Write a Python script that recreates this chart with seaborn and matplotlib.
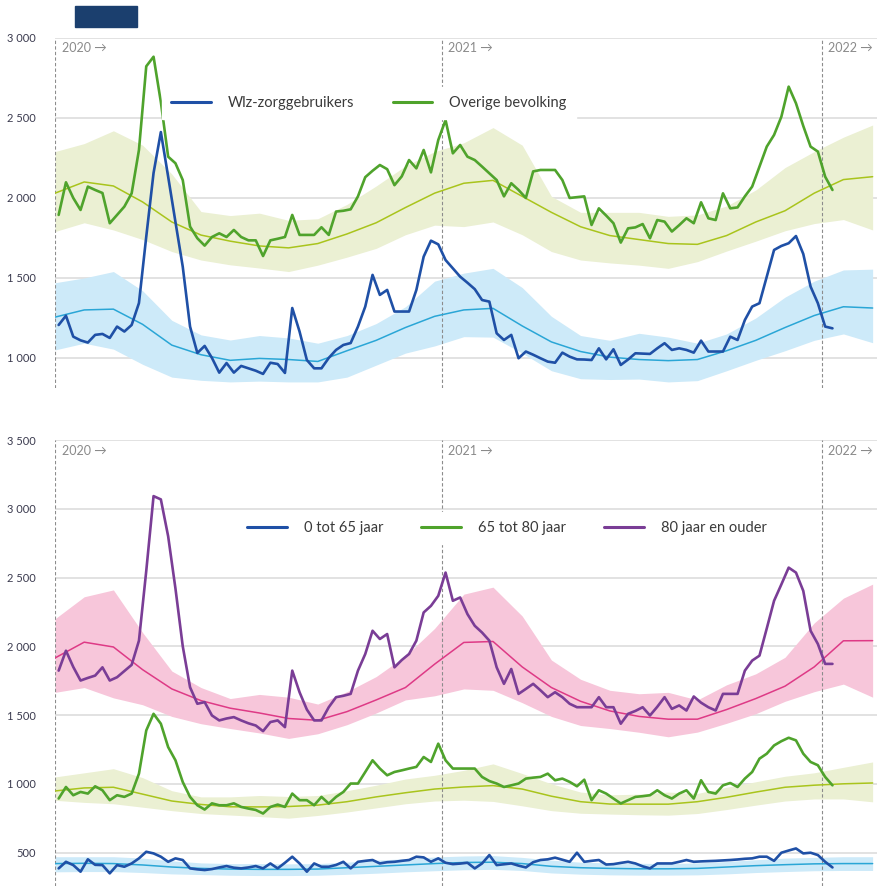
import numpy as np
import pandas as pd
import matplotlib
matplotlib.use("Agg")
import matplotlib.pyplot as plt
from matplotlib.lines import Line2D
from matplotlib.patches import Rectangle
from matplotlib.ticker import FuncFormatter
import seaborn as sns

# ---------------- data (weekly, observed) ----------------
top_wlz = [1206, 1264, 1133, 1110, 1096, 1144, 1150, 1125, 1196, 1165,
           1206, 1343, 1758, 2156, 2412, 2133, 1850, 1570, 1196, 1031,
           1075, 1000, 908, 968, 908, 950, 935, 920, 900, 970,
           962, 906, 1312, 1165, 987, 935, 935, 1000, 1050, 1081,
           1093, 1196, 1321, 1519, 1394, 1425, 1290, 1290, 1290, 1425,
           1633, 1733, 1710, 1612, 1560, 1508, 1470, 1430, 1362, 1352,
           1154, 1112, 1144, 998, 1040, 1020, 998, 977, 970, 1033,
           1008, 991, 990, 987, 1060, 991, 1054, 956, 990, 1029,
           1027, 1025, 1060, 1092, 1050, 1060, 1050, 1033, 1108, 1040,
           1040, 1040, 1133, 1112, 1237, 1321, 1342, 1508, 1675, 1700,
           1717, 1762, 1650, 1446, 1342, 1196, 1185]
top_other = [1894, 2098, 2000, 1925, 2071, 2050, 2031, 1842, 1894, 1946,
             2029, 2300, 2823, 2883, 2600, 2258, 2217, 2112, 1821, 1748,
             1702, 1756, 1779, 1756, 1800, 1756, 1735, 1735, 1637, 1735,
             1745, 1756, 1894, 1769, 1769, 1769, 1817, 1769, 1915, 1920,
             1929, 2010, 2130, 2170, 2206, 2180, 2080, 2135, 2237, 2185,
             2300, 2160, 2362, 2487, 2279, 2331, 2258, 2237, 2196, 2154,
             2112, 2010, 2092, 2050, 2000, 2166, 2175, 2175, 2175, 2112,
             2000, 2005, 2010, 1831, 1935, 1890, 1842, 1721, 1810, 1816,
             1837, 1748, 1862, 1852, 1790, 1830, 1873, 1842, 1973, 1873,
             1862, 2029, 1935, 1941, 2010, 2071, 2196, 2321, 2394, 2508,
             2696, 2592, 2450, 2321, 2290, 2133, 2050]
bot_80 = [1823, 1968, 1850, 1751, 1770, 1787, 1847, 1751, 1775, 1820,
          1865, 2041, 2548, 3092, 3068, 2800, 2420, 2000, 1702, 1582,
          1594, 1497, 1461, 1475, 1485, 1461, 1440, 1424, 1383, 1449,
          1461, 1412, 1823, 1666, 1540, 1461, 1461, 1557, 1630, 1640,
          1654, 1823, 1944, 2113, 2053, 2089, 1847, 1900, 1944, 2041,
          2246, 2294, 2367, 2536, 2331, 2355, 2234, 2149, 2100, 2041,
          1847, 1727, 1835, 1654, 1690, 1727, 1680, 1630, 1666, 1630,
          1582, 1557, 1557, 1557, 1630, 1557, 1557, 1437, 1509, 1530,
          1557, 1497, 1560, 1630, 1545, 1570, 1533, 1635, 1590, 1557,
          1533, 1654, 1654, 1654, 1823, 1896, 1932, 2130, 2331, 2450,
          2572, 2536, 2403, 2113, 2017, 1872, 1872]
bot_65 = [893, 977, 917, 941, 929, 982, 953, 881, 917, 905,
          929, 1074, 1388, 1509, 1437, 1267, 1171, 1013, 905, 844,
          813, 858, 844, 844, 858, 832, 820, 810, 784, 832,
          849, 832, 929, 881, 881, 844, 905, 856, 905, 941,
          1002, 1002, 1086, 1171, 1111, 1062, 1086, 1098, 1111, 1123,
          1195, 1159, 1292, 1171, 1111, 1111, 1111, 1111, 1050, 1020,
          1002, 977, 989, 1002, 1038, 1045, 1050, 1074, 1026, 1038,
          1014, 982, 1030, 881, 953, 929, 893, 857, 881, 905,
          910, 917, 953, 917, 893, 929, 953, 893, 1026, 941,
          929, 989, 1006, 977, 1038, 1086, 1183, 1219, 1279, 1310,
          1335, 1316, 1219, 1159, 1135, 1050, 989]
bot_0 = [385, 433, 409, 361, 451, 411, 409, 349, 409, 397,
         421, 458, 506, 494, 470, 433, 458, 446, 385, 378,
         373, 380, 392, 402, 390, 385, 392, 402, 385, 421,
         385, 426, 470, 421, 361, 421, 397, 397, 410, 433,
         385, 433, 440, 446, 421, 430, 433, 440, 446, 470,
         465, 433, 458, 426, 416, 420, 426, 385, 421, 482,
         409, 415, 421, 405, 392, 430, 446, 451, 463, 448,
         433, 499, 433, 440, 446, 413, 416, 425, 433, 421,
         400, 385, 421, 421, 421, 433, 446, 433, 436, 438,
         440, 443, 446, 450, 455, 458, 470, 470, 440, 499,
         515, 530, 494, 499, 482, 433, 392]

# ---------------- data (expected, every 4 weeks) ----------------
top_wlz_exp = [1255, 1300, 1305, 1210, 1080, 1020, 985, 997, 990, 978, 1045, 1110, 1190, 1260, 1300,
               1310, 1200, 1100, 1040, 1005, 990, 983, 990, 1045, 1110, 1190, 1265, 1320, 1312]
top_wlz_hi = [1470, 1500, 1540, 1420, 1235, 1144, 1112, 1140, 1125, 1092, 1140, 1215, 1320, 1480, 1530,
              1560, 1440, 1260, 1140, 1110, 1154, 1130, 1092, 1150, 1250, 1380, 1480, 1550, 1555]
top_wlz_lo = [1050, 1092, 1055, 960, 880, 860, 850, 855, 850, 850, 880, 955, 1030, 1075, 1133,
              1130, 1030, 920, 870, 865, 868, 850, 858, 920, 985, 1045, 1110, 1150, 1095]
top_oth_exp = [2030, 2100, 2075, 1975, 1850, 1768, 1730, 1700, 1688, 1715, 1775, 1845, 1940, 2030, 2092,
               2110, 2010, 1910, 1820, 1765, 1740, 1715, 1710, 1765, 1850, 1920, 2030, 2115, 2133]
top_oth_hi = [2290, 2340, 2420, 2330, 2150, 1915, 1890, 1905, 1860, 1870, 1960, 2075, 2200, 2290, 2345,
              2440, 2330, 2010, 1910, 1910, 1910, 1885, 1894, 1950, 2050, 2190, 2290, 2380, 2456]
top_oth_lo = [1790, 1845, 1800, 1740, 1665, 1612, 1582, 1562, 1540, 1580, 1630, 1685, 1770, 1830, 1821,
              1850, 1770, 1665, 1612, 1594, 1580, 1560, 1602, 1668, 1730, 1795, 1840, 1865, 1800]
bot_80_exp = [1915, 2030, 1995, 1830, 1690, 1605, 1550, 1515, 1475, 1462, 1525, 1610, 1700, 1870, 2028,
              2035, 1850, 1700, 1600, 1530, 1490, 1470, 1470, 1540, 1620, 1710, 1850, 2040, 2041]
bot_80_hi = [2200, 2360, 2410, 2100, 1820, 1700, 1620, 1650, 1630, 1580, 1670, 1780, 1930, 2130, 2379,
             2430, 2220, 1900, 1760, 1680, 1655, 1665, 1610, 1720, 1800, 1920, 2170, 2350, 2452]
bot_80_lo = [1665, 1700, 1625, 1575, 1490, 1437, 1402, 1370, 1330, 1364, 1430, 1515, 1610, 1640, 1690,
             1680, 1590, 1490, 1424, 1402, 1375, 1342, 1376, 1440, 1510, 1600, 1670, 1725, 1630]
bot_65_exp = [948, 970, 975, 925, 875, 850, 833, 832, 835, 845, 870, 905, 935, 962, 977,
              987, 962, 910, 870, 853, 852, 852, 870, 902, 940, 975, 990, 1000, 1006]
bot_65_hi = [1050, 1080, 1110, 1045, 950, 905, 905, 915, 908, 915, 950, 990, 1035, 1062, 1098,
             1145, 1075, 1000, 940, 920, 925, 940, 930, 975, 1015, 1055, 1080, 1120, 1159]
bot_65_lo = [880, 865, 855, 830, 805, 784, 773, 762, 750, 770, 795, 825, 855, 875, 881,
             872, 840, 805, 786, 780, 775, 772, 784, 813, 845, 875, 890, 890, 869]
bot_0_exp = [420, 422, 420, 410, 395, 385, 380, 378, 378, 380, 390, 400, 410, 420, 428,
             430, 420, 400, 390, 385, 382, 382, 385, 395, 405, 412, 418, 420, 420]
bot_0_hi = [470, 470, 470, 460, 440, 425, 420, 420, 418, 420, 430, 445, 455, 468, 475,
            478, 465, 445, 430, 425, 422, 420, 425, 435, 448, 460, 465, 470, 470]
bot_0_lo = [360, 362, 362, 355, 345, 340, 335, 333, 333, 335, 342, 350, 360, 368, 375,
            378, 370, 352, 343, 338, 336, 336, 338, 345, 355, 362, 368, 370, 370]

year_labels = ["2020 \u2192", "2021 \u2192", "2022 \u2192"]
year_weeks = [0, 53, 105]

top_names = ["Wlz-zorggebruikers", "Overige bevolking"]
bot_names = ["0 tot 65 jaar", "65 tot 80 jaar", "80 jaar en ouder"]

# ---------------- style ----------------
sns.set_theme(style="white")
plt.rcParams["font.family"] = ["Lato", "DejaVu Sans"]

C_BLUE = "#1f50a6"
C_GREEN = "#4fa32c"
C_PURPLE = "#7a3d96"
C_EXP_BLUE = "#2aa6d6"
C_EXP_GREEN = "#a9c41c"
C_EXP_PINK = "#de3a86"
C_BAND_BLUE = "#cdeaf9"
C_BAND_GREEN = "#ebf0d3"
C_BAND_PINK = "#f7c6da"

W, H = 877, 886
fig = plt.figure(figsize=(W / 100, H / 100), dpi=100)
ax_top = fig.add_axes([55 / W, 1 - 388 / H, (W - 55) / W, 350 / H])
ax_bot = fig.add_axes([55 / W, 0, (W - 55) / W, 446 / H])

fig.add_artist(Rectangle((75 / W, 1 - 27 / H), 62 / W, 21 / H,
                         transform=fig.transFigure, color="#1b3f6e", zorder=10))

exp_weeks = np.arange(len(top_wlz_exp)) * 4


def obs_df(values, name):
    return pd.DataFrame({"week": np.arange(len(values)) + 0.5, "value": values, "series": name})


def exp_df(values, name):
    return pd.DataFrame({"week": exp_weeks, "value": values, "series": name})


def draw_panel(ax, bands, exps, obs, ylim, yticks, legend_names, legend_colors, legend_pos):
    for lo, hi, col in bands:
        ax.fill_between(exp_weeks, lo, hi, color=col, lw=0, zorder=1)
    for vals, col in exps:
        sns.lineplot(data=exp_df(vals, "e"), x="week", y="value", color=col, lw=1.1,
                     ax=ax, legend=False, zorder=2)
    for vals, col in obs:
        sns.lineplot(data=obs_df(vals, "o"), x="week", y="value", color=col, lw=1.9,
                     ax=ax, legend=False, zorder=3)
    ax.set_xlim(0, 112.6)
    ax.set_ylim(*ylim)
    ax.set_yticks(yticks)
    ax.yaxis.set_major_formatter(FuncFormatter(lambda v, p: f"{int(v):,}".replace(",", " ")))
    ax.set_xticks([])
    ax.set_xlabel("")
    ax.set_ylabel("")
    ax.grid(axis="y", color="#e2e2e2", lw=1.4)
    ax.set_axisbelow(True)
    for s in ax.spines.values():
        s.set_visible(False)
    ax.tick_params(axis="y", length=0, pad=14, labelsize=8, labelcolor="#3a3a4e")
    for t in ax.get_yticklabels():
        t.set_horizontalalignment("right")
    ytxt = 1 - 10.5 / (ax.get_position().height * H)
    for wk, lab in zip(year_weeks, year_labels):
        ax.axvline(wk, color="#8c8c8c", lw=0.8, ls=(0, (3, 2)), zorder=1.5)
        ax.text(wk + 0.9, ytxt, lab, transform=ax.get_xaxis_transform(), fontsize=9,
                color="#8a8a8a", va="center", ha="left")
    handles = [Line2D([0], [0], color=c, lw=2.2) for c in legend_colors]
    leg = ax.legend(handles, legend_names, loc="center", bbox_to_anchor=legend_pos,
                    ncol=len(legend_names), frameon=True, fancybox=False, framealpha=1,
                    facecolor="white", edgecolor="white", fontsize=10.5, handlelength=2.7,
                    handletextpad=1.2, columnspacing=2.6, borderpad=0.6)
    leg.set_zorder(5)
    for t in leg.get_texts():
        t.set_color("#3a3a3a")


draw_panel(ax_top,
           bands=[(top_oth_lo, top_oth_hi, C_BAND_GREEN), (top_wlz_lo, top_wlz_hi, C_BAND_BLUE)],
           exps=[(top_oth_exp, C_EXP_GREEN), (top_wlz_exp, C_EXP_BLUE)],
           obs=[(top_other, C_GREEN), (top_wlz, C_BLUE)],
           ylim=(812, 3000), yticks=[1000, 1500, 2000, 2500, 3000],
           legend_names=top_names, legend_colors=[C_BLUE, C_GREEN],
           legend_pos=(0.382, 0.814))

draw_panel(ax_bot,
           bands=[(bot_0_lo, bot_0_hi, C_BAND_BLUE), (bot_65_lo, bot_65_hi, C_BAND_GREEN),
                  (bot_80_lo, bot_80_hi, C_BAND_PINK)],
           exps=[(bot_0_exp, C_EXP_BLUE), (bot_65_exp, C_EXP_GREEN), (bot_80_exp, C_EXP_PINK)],
           obs=[(bot_0, C_BLUE), (bot_65, C_GREEN), (bot_80, C_PURPLE)],
           ylim=(257, 3500), yticks=[500, 1000, 1500, 2000, 2500, 3000, 3500],
           legend_names=bot_names, legend_colors=[C_BLUE, C_GREEN, C_PURPLE],
           legend_pos=(0.55, 0.803))

fig.savefig("out.png", dpi=100)
